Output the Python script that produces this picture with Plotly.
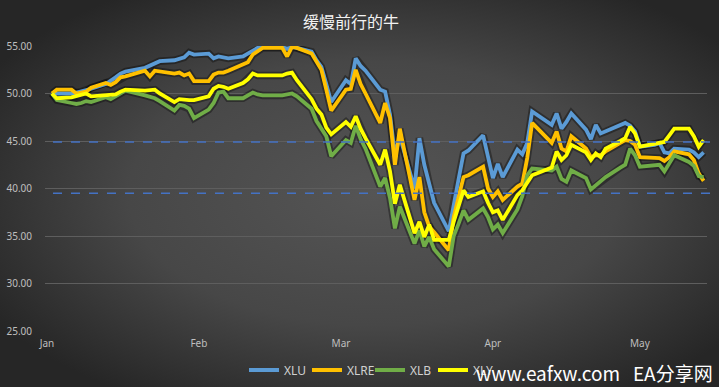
import base64
import plotly.graph_objects as go

dates = [
    "2020-01-02", "2020-01-03", "2020-01-06", "2020-01-07", "2020-01-08", "2020-01-09", "2020-01-10",
    "2020-01-13", "2020-01-14", "2020-01-15", "2020-01-16", "2020-01-17",
    "2020-01-21", "2020-01-22", "2020-01-23", "2020-01-24",
    "2020-01-27", "2020-01-28", "2020-01-29", "2020-01-30", "2020-01-31",
    "2020-02-03", "2020-02-04", "2020-02-05", "2020-02-06", "2020-02-07",
    "2020-02-10", "2020-02-11", "2020-02-12", "2020-02-13", "2020-02-14",
    "2020-02-18", "2020-02-19", "2020-02-20", "2020-02-21",
    "2020-02-24", "2020-02-25", "2020-02-26", "2020-02-27", "2020-02-28",
    "2020-03-02", "2020-03-03", "2020-03-04", "2020-03-05", "2020-03-06",
    "2020-03-09", "2020-03-10", "2020-03-11", "2020-03-12", "2020-03-13",
    "2020-03-16", "2020-03-17", "2020-03-18", "2020-03-19", "2020-03-20",
    "2020-03-23", "2020-03-24", "2020-03-25", "2020-03-26", "2020-03-27",
    "2020-03-30", "2020-03-31", "2020-04-01", "2020-04-02", "2020-04-03",
    "2020-04-06", "2020-04-07", "2020-04-08", "2020-04-09",
    "2020-04-13", "2020-04-14", "2020-04-15", "2020-04-16", "2020-04-17",
    "2020-04-20", "2020-04-21", "2020-04-22", "2020-04-23", "2020-04-24",
    "2020-04-27", "2020-04-28", "2020-04-29", "2020-04-30", "2020-05-01",
    "2020-05-04", "2020-05-05", "2020-05-06", "2020-05-07", "2020-05-08",
    "2020-05-11", "2020-05-12", "2020-05-13", "2020-05-14",
]

xlu = [
    50.0, 50.0, 50.0, 50.1, 50.2, 50.4, 50.5,
    51.0, 51.3, 51.7, 52.1, 52.3,
    52.7, 52.9, 53.1, 53.4,
    53.5, 53.7, 53.8, 54.3, 54.1,
    54.2, 53.7, 53.9, 53.8, 53.7,
    53.9, 54.2, 54.5, 54.8, 54.9,
    54.9, 54.7, 54.9, 54.8,
    54.4, 53.5, 52.8, 51.0, 49.1,
    51.4, 51.0, 53.7, 52.9, 52.4,
    50.4, 50.2, 47.8, 43.5, 45.5,
    40.0, 45.3, 42.5, 40.5, 38.5,
    35.5, 38.5, 41.0, 43.7, 44.0,
    45.6, 43.5, 41.1, 42.6, 41.2,
    44.1, 43.6, 44.8, 48.1,
    46.7, 47.9, 46.3, 47.0, 47.9,
    46.2, 45.2, 46.7, 45.8, 46.0,
    46.6, 46.9, 46.6, 46.0, 44.4,
    44.6, 44.8, 43.8, 43.7, 44.2,
    44.1, 43.8, 43.3, 43.8,
]

xlre = [
    50.0, 50.4, 50.4, 50.0, 50.1, 50.2, 50.6,
    51.1, 50.9, 51.2, 51.7, 51.8,
    52.4, 51.8, 52.4, 52.3,
    52.1, 52.2, 51.9, 52.1, 51.3,
    51.3, 52.0, 52.2, 52.2, 52.4,
    53.0, 53.3, 54.1, 54.5, 54.8,
    54.8, 53.9, 54.9, 54.8,
    54.2, 53.4, 52.5, 50.4, 48.2,
    50.4, 50.5, 52.5, 51.0, 50.0,
    46.9, 49.0, 47.4, 42.5, 46.3,
    38.8, 41.2, 37.5, 36.0, 35.4,
    33.5, 37.0, 39.0, 41.2, 41.4,
    42.3, 40.0, 39.1, 39.7, 38.8,
    40.2, 40.5, 43.2, 46.9,
    44.8, 46.0, 44.2, 43.9, 45.5,
    44.2, 43.3, 43.5, 43.5, 43.9,
    44.8, 45.1, 45.0, 44.6, 43.3,
    43.2, 43.2, 42.9, 43.3, 43.9,
    43.6, 43.0, 41.6, 40.8,
]

xlb = [
    50.0, 49.3, 49.0, 48.9, 49.0, 49.2, 49.1,
    49.6, 49.4, 49.7, 50.0, 50.3,
    49.8, 49.7, 49.5, 49.2,
    48.2, 48.8, 48.7, 48.4, 47.4,
    48.3, 49.0, 50.1, 50.2, 49.5,
    49.5, 49.8, 50.1, 49.9, 49.8,
    49.8, 49.9, 50.0, 49.7,
    48.4, 47.1, 46.2, 45.5, 43.4,
    45.1, 44.8, 46.6, 45.2, 44.2,
    40.2, 41.1, 39.0, 35.8, 38.1,
    34.2, 35.6, 33.9, 34.9, 33.6,
    31.8, 35.0, 36.3, 37.7, 36.7,
    37.9, 37.0, 35.7, 36.2, 35.3,
    37.8, 39.2, 41.4, 42.1,
    41.9, 42.3, 41.0, 40.7, 41.9,
    41.1, 39.9, 40.3, 40.7, 41.2,
    42.2, 42.5, 44.2, 43.5, 42.3,
    42.4, 42.5, 41.8, 42.6, 43.5,
    42.8, 42.4, 41.3, 41.2,
]

xly = [
    50.0, 49.5, 49.6, 49.7, 49.8, 50.0, 49.7,
    49.8, 49.8, 49.9, 50.2, 50.4,
    50.3, 50.3, 50.4, 50.0,
    49.1, 49.4, 49.3, 49.3, 49.3,
    49.7, 50.5, 50.8, 50.7, 50.5,
    51.1, 51.5, 52.1, 51.9, 51.9,
    51.9, 52.1, 52.2, 51.4,
    49.4, 48.4, 47.8, 46.4, 45.7,
    47.0, 46.5, 47.6, 46.3, 45.3,
    42.5, 44.1, 41.8, 38.4, 40.4,
    35.3, 36.5, 34.9, 36.2, 34.6,
    34.6, 36.5, 38.2, 39.8, 39.1,
    39.7, 38.5, 37.5, 37.7, 36.7,
    39.3, 39.8, 40.6, 41.4,
    42.2, 43.9, 43.0, 43.5, 44.6,
    43.8, 43.0, 43.7, 43.3, 44.2,
    45.0, 45.3, 46.5, 45.8, 44.4,
    44.7, 44.9, 44.9, 45.6, 46.3,
    46.3, 45.5, 44.4, 45.1,
]

series_names = ["XLU", "XLRE", "XLB", "XLY"]
series_values = [xlu, xlre, xlb, xly]
series_colors = ["#5B9BD5", "#FFC000", "#70AD47", "#FFFF00"]

ref_levels = [44.9, 39.5]
y_ticks = [25, 30, 35, 40, 45, 50, 55]
title_text = "缓慢前行的牛"
watermark_text = "www.eafxw.com   EA分享网"

# Figure geometry
W, H = 719, 387
ML, MR, MT, MB = 45, 12, 46, 56
PW, PH = W - ML - MR, H - MT - MB

# Radial gradient background as SVG image
svg = f'''<svg xmlns="http://www.w3.org/2000/svg" width="{W}" height="{H}" viewBox="0 0 {W} {H}" preserveAspectRatio="none">
<defs><radialGradient id="g" cx="0.52" cy="0.5" r="0.62" gradientUnits="objectBoundingBox">
<stop offset="0" stop-color="#555555"/><stop offset="0.55" stop-color="#474747"/><stop offset="1" stop-color="#262626"/>
</radialGradient></defs>
<rect width="{W}" height="{H}" fill="url(#g)"/></svg>'''
bg_uri = "data:image/svg+xml;base64," + base64.b64encode(svg.encode()).decode()

fig = go.Figure()

# soft shadows under lines
for vals in series_values:
    fig.add_trace(go.Scatter(
        x=dates, y=vals, mode="lines", showlegend=False, hoverinfo="skip",
        line=dict(color="rgba(0,0,0,0.35)", width=7.5),
    ))

for name, vals, col in zip(series_names, series_values, series_colors):
    fig.add_trace(go.Scatter(
        x=dates, y=vals, mode="lines", name=name,
        line=dict(color=col, width=3.8),
    ))

for lvl in ref_levels:
    fig.add_shape(type="line", xref="paper", yref="y",
                  x0=8 / PW, x1=(714 - ML) / PW, y0=lvl, y1=lvl,
                  line=dict(color="#4472C4", width=1.5, dash="dash"), layer="above")

fig.add_layout_image(dict(
    source=bg_uri, xref="paper", yref="paper",
    x=-ML / PW, y=1 + MT / PH, sizex=W / PW, sizey=H / PH,
    sizing="stretch", xanchor="left", yanchor="top", layer="below",
))

fig.add_annotation(
    text=title_text, xref="paper", yref="paper",
    x=(351 - ML) / PW, y=1 + (MT - 21) / PH, xanchor="center", yanchor="middle",
    showarrow=False, font=dict(family="Noto Sans CJK SC", size=16, color="#f2f2f2"),
)

fig.add_annotation(
    text=watermark_text, xref="paper", yref="paper",
    x=(715 - ML) / PW, y=-(372 - MT - PH) / PH, xanchor="right", yanchor="middle",
    showarrow=False, font=dict(family="Noto Sans CJK SC", size=19, color="#ffffff"),
)

fig.update_layout(
    width=W, height=H,
    margin=dict(l=ML, r=MR, t=MT, b=MB, autoexpand=False),
    paper_bgcolor="#3c3c3c",
    plot_bgcolor="rgba(0,0,0,0)",
    font=dict(family="Noto Sans", color="#bfbfbf", size=10),
    showlegend=True,
    legend=dict(
        orientation="h", xref="container", yref="container",
        x=370 / W, xanchor="center", y=1 - 370 / H, yanchor="middle",
        font=dict(size=12, color="#d0d0d0"), bgcolor="rgba(0,0,0,0)",
        itemwidth=30, entrywidth=18, entrywidthmode="pixels",
    ),
    xaxis=dict(
        type="date", automargin=False,
        range=["2019-12-31 14:12", "2020-05-14 16:34"],
        tickvals=["2020-01-01", "2020-02-01", "2020-03-01", "2020-04-01", "2020-05-01"],
        ticktext=["Jan", "Feb", "Mar", "Apr", "May"],
        showgrid=False, zeroline=False, showline=False, ticks="",
        ticklabelstandoff=5,
        tickfont=dict(size=10, color="#bfbfbf"),
    ),
    yaxis=dict(
        range=[25, 55], tickvals=y_ticks, tickformat=".2f", automargin=False,
        showgrid=True, gridcolor="#5e5e5e", gridwidth=1,
        zeroline=False, showline=False, ticks="",
        ticklabelstandoff=12,
        tickfont=dict(size=10, color="#bfbfbf"),
    ),
)

fig.write_html(
    "out.html",
    config={"displayModeBar": False},
    post_script="document.body.style.margin='0';document.body.style.padding='0';",
)
